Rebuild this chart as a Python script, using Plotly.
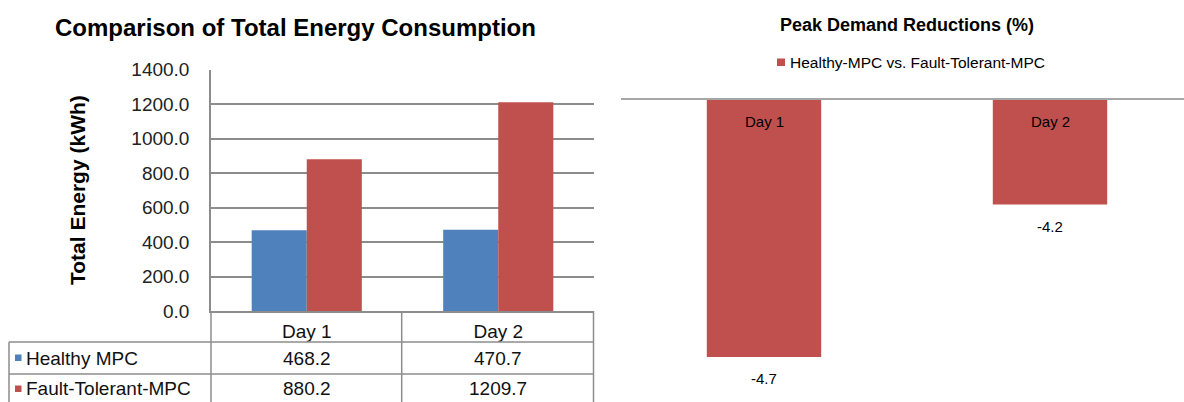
import plotly.graph_objects as go

# ---------------- data ----------------
days = ["Day 1", "Day 2"]
healthy_mpc = [468.2, 470.7]
fault_tolerant_mpc = [880.2, 1209.7]
series_names = ["Healthy MPC", "Fault-Tolerant-MPC"]
energy_ticks = [0, 200, 400, 600, 800, 1000, 1200, 1400]
peak_reduction = [-4.7, -4.2]
peak_series_name = "Healthy-MPC vs. Fault-Tolerant-MPC"
left_title = "Comparison of Total Energy Consumption"
left_ytitle = "Total Energy (kWh)"
right_title = "Peak Demand Reductions (%)"

# ---------------- styling ----------------
W, H = 1184, 402
BLUE = "#4F81BD"
RED = "#C0504D"
GRID = "#8c8c8c"
FONT = "Liberation Sans, Arial, sans-serif"


def fx(px):
    return px / W


def fy(py):
    return 1 - py / H


fig = go.Figure()

# Left chart: grouped bars
fig.add_trace(go.Bar(x=days, y=healthy_mpc, name=series_names[0], marker=dict(color=BLUE, line=dict(width=0)),
                     xaxis="x", yaxis="y", showlegend=False))
fig.add_trace(go.Bar(x=days, y=fault_tolerant_mpc, name=series_names[1], marker=dict(color=RED, line=dict(width=0)),
                     xaxis="x", yaxis="y", showlegend=False))

# Right chart: negative bars
fig.add_trace(go.Bar(x=days, y=peak_reduction, name=peak_series_name, width=0.4,
                     marker=dict(color=RED, line=dict(width=0)),
                     xaxis="x2", yaxis="y2", showlegend=False))

# right axis scale (truncated value axis as in original)
r_top_px, r_bot_px = 100, 395
r_px_per_unit = 305.0
r_top_val = -3.857
r_bot_val = r_top_val - (r_bot_px - r_top_px) / r_px_per_unit
r_left_px = 621
r_cat_px = 286.0

annotations = []
shapes = []

# titles
annotations.append(dict(text=left_title, x=fx(295), y=fy(27.5), xref="paper", yref="paper",
                        showarrow=False, xanchor="center", yanchor="middle",
                        font=dict(family=FONT, size=24, color="#000", weight="bold")))
annotations.append(dict(text=left_ytitle, x=fx(78), y=fy(190), xref="paper", yref="paper",
                        showarrow=False, textangle=-90, xanchor="center", yanchor="middle",
                        font=dict(family=FONT, size=21, color="#000", weight="bold")))
annotations.append(dict(text=right_title, x=fx(907), y=fy(25), xref="paper", yref="paper",
                        showarrow=False, xanchor="center", yanchor="middle",
                        font=dict(family=FONT, size=18, color="#000", weight="bold")))

# right legend
shapes.append(dict(type="rect", xref="paper", yref="paper", x0=fx(777), x1=fx(785), y0=fy(66), y1=fy(58.5),
                   fillcolor=RED, line=dict(width=0)))
annotations.append(dict(text=peak_series_name, x=fx(788), y=fy(62.5), xref="paper", yref="paper",
                        showarrow=False, xanchor="left", yanchor="middle",
                        font=dict(family=FONT, size=15.5, color="#000")))

# right chart labels
for d, v in zip(days, peak_reduction):
    annotations.append(dict(text=d, x=d, y=1, xref="x2", yref="y2 domain", showarrow=False,
                            xanchor="center", yanchor="top", yshift=-11,
                            font=dict(family=FONT, size=15, color="#000")))
    annotations.append(dict(text=f"{v:.1f}", x=d, y=v, xref="x2", yref="y2", showarrow=False,
                            xanchor="center", yanchor="top", yshift=-11,
                            font=dict(family=FONT, size=15, color="#000")))

# left data table
row_y = [358, 388.5]
series_vals = [healthy_mpc, fault_tolerant_mpc]
series_cols = [BLUE, RED]
square_y = [(354.5, 361), (385.5, 392)]
for name, vals, col, ry, (s0, s1) in zip(series_names, series_vals, series_cols, row_y, square_y):
    shapes.append(dict(type="rect", xref="paper", yref="paper", x0=fx(15), x1=fx(21.5), y0=fy(s1), y1=fy(s0),
                       fillcolor=col, line=dict(width=0)))
    annotations.append(dict(text=name, x=fx(24), y=fy(ry), xref="paper", yref="paper", showarrow=False,
                            xanchor="left", yanchor="middle", font=dict(family=FONT, size=19, color="#111")))
    for d, v in zip(days, vals):
        annotations.append(dict(text=f"{v:.1f}", x=d, y=fy(ry), xref="x", yref="paper", showarrow=False,
                                xanchor="center", yanchor="middle", font=dict(family=FONT, size=19, color="#111")))

# table lines
line_style = dict(color=GRID, width=1.5)
for x, y0, y1 in [(9, 342, 402), (211, 311, 402), (401.7, 311, 402), (593.5, 311, 402)]:
    shapes.append(dict(type="line", xref="paper", yref="paper", x0=fx(x), x1=fx(x), y0=fy(y0), y1=fy(y1),
                       line=line_style))
for y in [342, 374]:
    shapes.append(dict(type="line", xref="paper", yref="paper", x0=fx(9), x1=fx(593.5), y0=fy(y), y1=fy(y),
                       line=line_style))

fig.update_layout(
    width=W, height=H,
    margin=dict(l=0, r=0, t=0, b=0, pad=0, autoexpand=False),
    paper_bgcolor="white", plot_bgcolor="white",
    font=dict(family=FONT, color="#000"),
    barmode="group", bargap=0.425, bargroupgap=0,
    xaxis=dict(domain=[fx(211), fx(594)], anchor="y", type="category", automargin=False,
               showline=True, linecolor=GRID, linewidth=1.5,
               showgrid=False, ticks="", ticklabelstandoff=2,
               tickfont=dict(family=FONT, size=19, color="#111")),
    yaxis=dict(domain=[fy(311), fy(69.5)], anchor="x", range=[0, 1400], automargin=False,
               tickvals=energy_ticks, tickformat=".1f",
               showgrid=True, gridcolor=GRID, gridwidth=1.5,
               showline=True, linecolor=GRID, linewidth=1.5, zeroline=False,
               ticks="", ticklabelstandoff=16,
               tickfont=dict(family=FONT, size=19, color="#222")),
    xaxis2=dict(domain=[fx(r_left_px), 1.0], anchor="y2", type="category", automargin=False,
                range=[-0.5, -0.5 + (W - r_left_px) / r_cat_px],
                side="top", showline=True, linecolor="#a6a6a6", linewidth=2,
                showgrid=False, showticklabels=False, ticks="", zeroline=False),
    yaxis2=dict(domain=[fy(r_bot_px), fy(r_top_px)], anchor="x2", automargin=False,
                range=[r_bot_val, r_top_val], visible=False),
    annotations=annotations,
    shapes=shapes,
)

fig.write_html("out.html")
